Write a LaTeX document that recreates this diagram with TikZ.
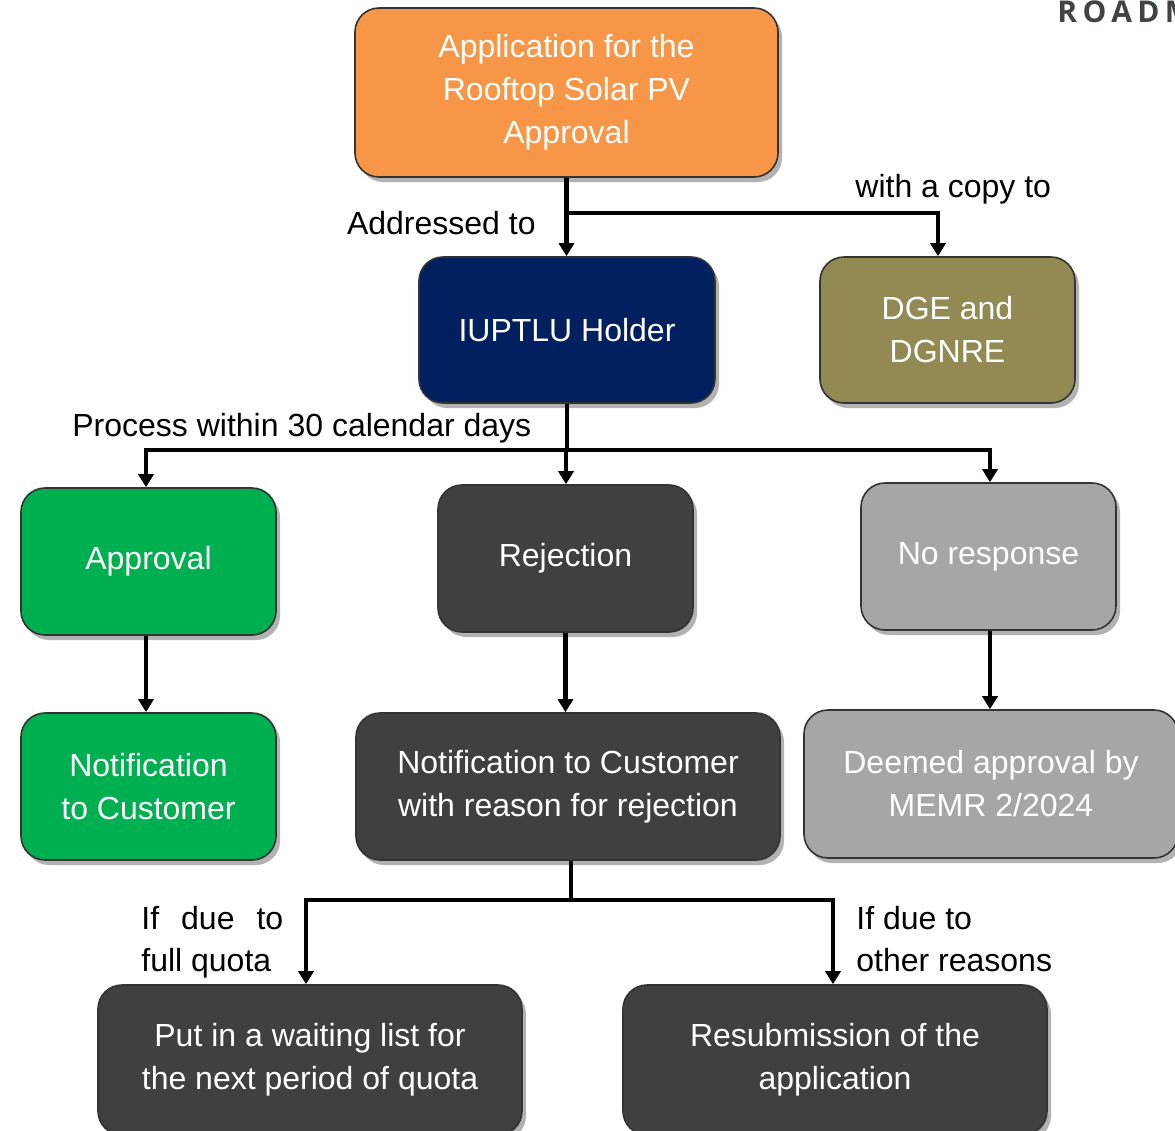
\documentclass[tikz,border=0pt]{standalone}
\usepackage{fontspec}
\setmainfont{Liberation Sans}
\newfontfamily\headfont[LetterSpace=18]{Open Sans}
\usetikzlibrary{arrows.meta,shadows}
\definecolor{cOrange}{HTML}{F79646}
\definecolor{cNavy}{HTML}{002060}
\definecolor{cOlive}{HTML}{938953}
\definecolor{cGreen}{HTML}{00B050}
\definecolor{cDark}{HTML}{404040}
\definecolor{cGray}{HTML}{A6A6A6}
\definecolor{cHead}{HTML}{3F4443}
\begin{document}
\begin{tikzpicture}[x=0.5pt,y=-0.5pt,
  box/.style={draw=black!80, line width=0.8pt, rounded corners=12pt, text=white,
    align=center, font=\fontsize{16}{21.5}\selectfont, inner sep=0pt,
    drop shadow={shadow xshift=2pt, shadow yshift=-2.5pt, opacity=0.3, fill=black}},
  conn/.style={line width=2.2pt, black},
  arr/.style={conn, -{Triangle[width=7.5pt,length=6.5pt]}},
  lbl/.style={font=\fontsize{16}{21}\selectfont, text=black, inner sep=0pt, align=left}
]
\useasboundingbox (0,0) rectangle (1175,1131);
\clip (0,0) rectangle (1175,1131);

\node[anchor=base west, inner sep=0pt, text=cHead, font=\headfont\bfseries\fontsize{15}{18}\selectfont] (head) at (1057,22.5) {ROADMAP};

\node[box, fill=cOrange, minimum width=211.5pt, minimum height=84.5pt] (app) at (566.5,92.5) {Application for the\\Rooftop Solar PV\\Approval};
\node[box, fill=cNavy, minimum width=148pt, minimum height=73pt] (iup) at (567,330) {IUPTLU Holder};
\node[box, fill=cOlive, minimum width=127.5pt, minimum height=73pt] (dge) at (947.5,330) {DGE and\\DGNRE};
\node[box, fill=cGreen, minimum width=127.5pt, minimum height=73.5pt] (appr) at (148.5,561.5) {Approval};
\node[box, fill=cDark, minimum width=127.5pt, minimum height=73.5pt] (rej) at (565.5,558.5) {Rejection};
\node[box, fill=cGray, minimum width=127.5pt, minimum height=73.5pt] (nores) at (988.5,556.5) {No response};
\node[box, fill=cGreen, minimum width=127.5pt, minimum height=73.5pt] (ncust) at (148.5,786.5) {Notification\\to Customer};
\node[box, fill=cDark, minimum width=212pt, minimum height=73.5pt] (nrej) at (568,786.5) {Notification to Customer\\with reason for rejection};
\node[box, fill=cGray, minimum width=187pt, minimum height=74pt] (deem) at (991,784) {Deemed approval by\\MEMR 2/2024};
\node[box, fill=cDark, minimum width=212pt, minimum height=75pt] (wait) at (310,1060) {Put in a waiting list for\\the next period of quota};
\node[box, fill=cDark, minimum width=212pt, minimum height=75pt] (resub) at (835,1060) {Resubmission of the\\application};

% connectors
\coordinate (b1) at (567,213);
\draw[arr] (app.south) -- (app.south |- iup.north);
\draw[arr] (b1) -| ([xshift=-4.75pt]dge.north);

\coordinate (p) at (566,450);
\draw[conn] (iup.south) -- (iup.south |- p);
\draw[arr] (p) -| ([xshift=-1.25pt]appr.north);
\draw[arr] (p) -- (p |- rej.north);
\draw[arr] (p) -| ([xshift=0.75pt]nores.north);

\draw[arr] ([xshift=-1.25pt]appr.south) -- ([xshift=-1.25pt]ncust.north);
\draw[arr] (rej.south) -- (rej.south |- nrej.north);
\draw[arr] ([xshift=0.75pt]nores.south) -- ([xshift=0.75pt]nores.south |- deem.north);

\coordinate (q) at (571,900);
\draw[conn] (nrej.south -| q) -- (q);
\draw[arr] (q) -| ([xshift=-2pt]wait.north);
\draw[arr] (q) -| ([xshift=-1pt]resub.north);

% labels
\node[lbl, anchor=base east] (l1) at (536,234) {Addressed to};
\node[lbl, anchor=base west] (l2) at (855,197) {with a copy to};
\node[lbl, anchor=base west] (l3) at (72,436) {Process within 30 calendar days};
\node[lbl, anchor=north west] (l4) at (141,906) {If\hspace{11pt}due\hspace{11pt}to\\full quota};
\node[lbl, anchor=north west] (l5) at (856,906) {If due to\\other reasons};
\end{tikzpicture}
\end{document}
